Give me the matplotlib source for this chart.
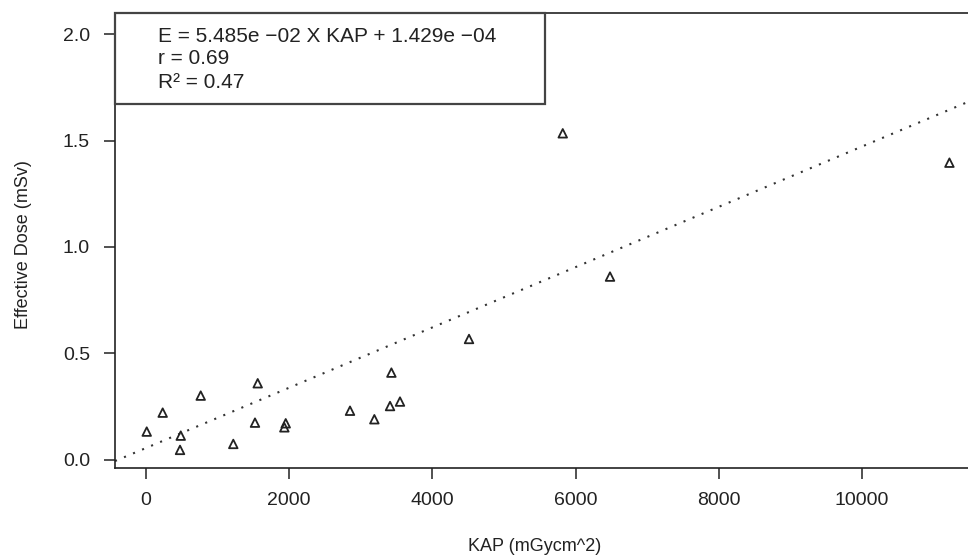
import matplotlib
matplotlib.use("Agg")
import matplotlib.pyplot as plt
from matplotlib.patches import Rectangle

plt.rcParams['font.family'] = ['Liberation Sans', 'DejaVu Sans']

# data
kap = [10, 233, 485, 475, 764, 1219, 1560, 1522, 1951, 1932,
       3427, 2849, 3189, 3408, 3547, 4511, 5820, 6480, 11220]
dose = [0.133, 0.222, 0.114, 0.047, 0.302, 0.075, 0.360, 0.175, 0.172, 0.153,
        0.410, 0.231, 0.191, 0.253, 0.274, 0.568, 1.534, 0.861, 1.396]

# fitted line as drawn in the plot
fit_slope = 1.416e-4
fit_intercept = 0.056

legend_lines = ["E = 5.485e \u221202 X KAP + 1.429e \u221204",
                "r = 0.69",
                "R\u00b2 = 0.47"]

x_ticks = [0, 2000, 4000, 6000, 8000, 10000]
y_ticks = [0.0, 0.5, 1.0, 1.5, 2.0]

W, H = 968, 558
fig = plt.figure(figsize=(W / 100, H / 100), dpi=100)
# axes box in pixels: left 115, right 980 (runs off the image), top 13, bottom 468
ax = fig.add_axes([115 / W, (H - 468) / H, 865 / W, 455 / H])

ink = '#222222'
ax.scatter(kap, dose, marker='^', s=38, facecolors='none',
           edgecolors=ink, linewidths=1.3, zorder=3)
ax.axline((0, fit_intercept), slope=fit_slope, color='#333333',
          lw=1.5, linestyle=(0, (1, 3.7)))

ax.set_xlim(-433, 11647)
ax.set_ylim(-0.038, 2.099)
ax.set_xticks(x_ticks)
ax.set_xticklabels([str(t) for t in x_ticks])
ax.set_yticks(y_ticks)
ax.set_yticklabels([f"{t:.1f}" for t in y_ticks])

for s in ax.spines.values():
    s.set_linewidth(1.2)
    s.set_color(ink)
ax.tick_params(axis='both', direction='out', length=8, width=1.1,
               color=ink, labelsize=14, labelcolor=ink)
ax.tick_params(axis='x', pad=9)
ax.tick_params(axis='y', pad=10)

ax.set_xlabel("KAP (mGycm^2)", fontsize=13, color=ink)
ax.xaxis.set_label_coords((535 - 115) / 865, (468 - 538) / 455)
ax.set_ylabel("Effective Dose (mSv)", fontsize=13, color=ink)
ax.yaxis.set_label_coords((32 - 115) / 865, (468 - 245) / 455)

# legend box in the top-left corner
ax.add_patch(Rectangle((0, (468 - 104) / 455), (545 - 115) / 865, (104 - 13) / 455,
                       transform=ax.transAxes, facecolor='white',
                       edgecolor='#444444', lw=1.6, zorder=4, clip_on=False))
for line, py in zip(legend_lines, [36, 59, 83]):
    ax.text((158 - 115) / 865, (468 - py) / 455, line, transform=ax.transAxes,
            fontsize=15, color=ink, va='center', ha='left', zorder=5)

fig.savefig("out.png", dpi=100)
